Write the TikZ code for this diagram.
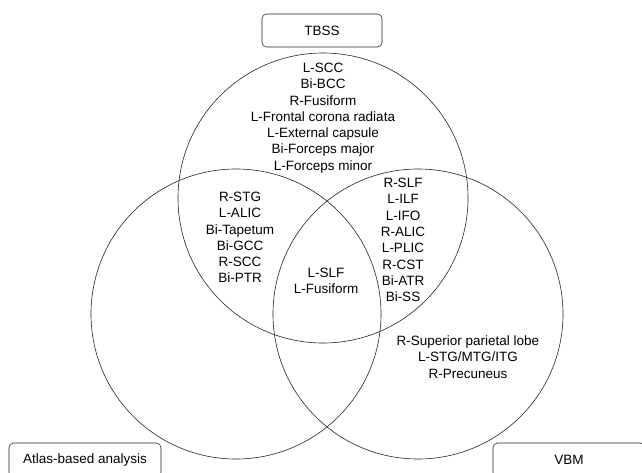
\documentclass[tikz,border=0pt]{standalone}
\usepackage{fontspec}
\setmainfont{Liberation Sans}
\begin{document}
\begin{tikzpicture}[x=1pt,y=-1pt,
  vcircle/.style={circle,draw=black!85,line width=0.6pt,minimum size=290pt,inner sep=0pt},
  labelbox/.style={draw=black!85,line width=0.6pt,rounded corners=4.5pt,inner sep=0pt,font=\fontsize{13.5}{16}\selectfont},
  txt/.style={align=center,inner sep=0pt,font=\fontsize{13.5}{16.3}\selectfont}]
\useasboundingbox (0,0) rectangle (642,472);
\clip (0,0) rectangle (642,472);
\fill[white] (0,0) rectangle (642,472);
\node[vcircle] (ctop) at (323,198) {};
\node[vcircle] (cleft) at (236,314) {};
\node[vcircle] (cright) at (418,314) {};
\node[labelbox,minimum width=120pt,minimum height=33pt] (tbss) at (322,30.5) {TBSS};
\node[labelbox,minimum width=152pt,minimum height=34pt] (atlas) at (85,460) {Atlas-based analysis};
\node[labelbox,minimum width=152pt,minimum height=34pt] (vbm) at (569,460) {VBM};
\node[txt] (ttop) at (323,118) {L-SCC\\Bi-BCC\\R-Fusiform\\L-Frontal corona radiata\\L-External capsule\\Bi-Forceps major\\L-Forceps minor};
\node[txt] (tleft) at (240,237.5) {R-STG\\L-ALIC\\Bi-Tapetum\\Bi-GCC\\R-SCC\\Bi-PTR};
\node[txt] (tright) at (403,240) {R-SLF\\L-ILF\\L-IFO\\R-ALIC\\L-PLIC\\R-CST\\Bi-ATR\\Bi-SS};
\node[txt] (tcenter) at (326,281) {L-SLF\\L-Fusiform};
\node[txt] (tvbm) at (468,357) {R-Superior parietal lobe\\L-STG/MTG/ITG\\R-Precuneus};
\end{tikzpicture}
\end{document}
